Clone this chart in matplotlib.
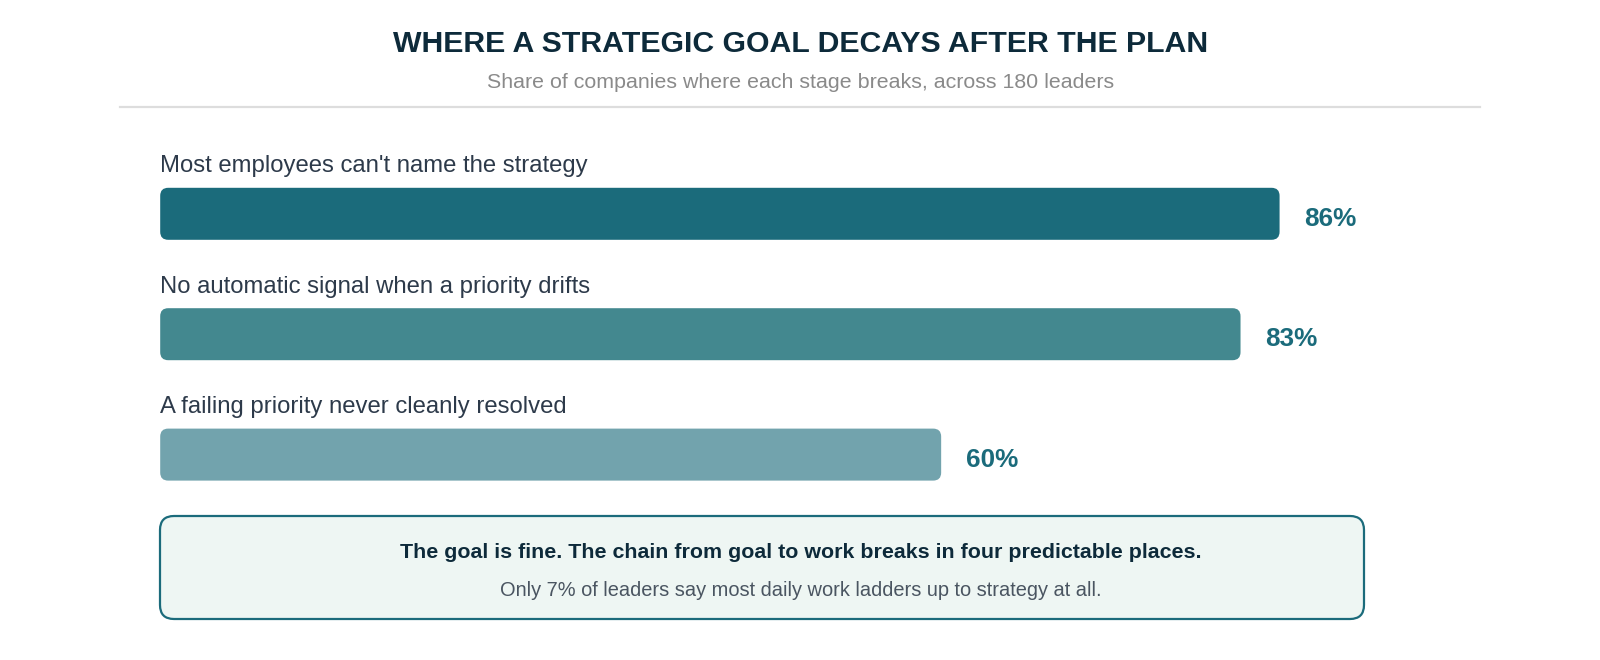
import matplotlib.pyplot as plt
from matplotlib.patches import FancyBboxPatch

plt.rcParams['font.family'] = ['Liberation Sans', 'DejaVu Sans']

title = 'WHERE A STRATEGIC GOAL DECAYS AFTER THE PLAN'
subtitle = 'Share of companies where each stage breaks, across 180 leaders'
stages = ["Most employees can't name the strategy",
          'No automatic signal when a priority drifts',
          'A failing priority never cleanly resolved']
shares = [86, 83, 60]
bar_colors = ['#1b6b7b', '#43888f', '#72a3ad']
note_head = 'The goal is fine. The chain from goal to work breaks in four predictable places.'
note_body = 'Only 7% of leaders say most daily work ladders up to strategy at all.'

W, H = 1600, 660
fig = plt.figure(figsize=(W / 100, H / 100), dpi=100)
fig.patch.set_facecolor('white')

# background layer in pixel units (y down)
deco = fig.add_axes([0, 0, 1, 1])
deco.set_xlim(0, W)
deco.set_ylim(H, 0)
deco.axis('off')

deco.text(801, 43.5, title, ha='center', va='center', fontsize=21.8,
          fontweight='bold', color='#0d2a3a')
deco.text(801, 82.5, subtitle, ha='center', va='center', fontsize=15.4,
          color='#8a8a8a')
deco.plot([120, 1480], [107, 107], color='#dddddd', lw=1.6)

box = FancyBboxPatch((160, 516), 1204, 103,
                     boxstyle='round,pad=0,rounding_size=14',
                     facecolor='#eef6f3', edgecolor='#1b6b7b', lw=1.6)
deco.add_patch(box)
deco.text(801, 553, note_head, ha='center', va='center', fontsize=15.4,
          fontweight='bold', color='#0d2a3a')
deco.text(801, 591, note_body, ha='center', va='center', fontsize=14.4,
          color='#4a5561')

# bar layer: x in percent, y in stage index
px_per_pct = 13.016
px_per_row = 120.4
x0_px, y0_px = 160.2, 213.8
ax = fig.add_axes([0, 0, 1, 1])
ax.patch.set_alpha(0)
ax.set_xlim(-x0_px / px_per_pct, (W - x0_px) / px_per_pct)
ax.set_ylim((H - y0_px) / px_per_row, -y0_px / px_per_row)
ax.axis('off')

bar_h = 52 / px_per_row
aspect = px_per_pct / px_per_row
for i, (name, val, col) in enumerate(zip(stages, shares, bar_colors)):
    ax.add_patch(FancyBboxPatch((0, i - bar_h / 2), val, bar_h,
                                boxstyle='round,pad=0,rounding_size=%f' % (8 / px_per_pct),
                                mutation_aspect=aspect,
                                facecolor=col, edgecolor='none'))
    ax.text(0, i - 47.5 / px_per_row, name, ha='left', va='center',
            fontsize=17.2, color='#2d3a4a')
    ax.text(val + 24.5 / px_per_pct, i + 5 / px_per_row, f'{val}%',
            ha='left', va='center', fontsize=18.8, fontweight='bold',
            color='#1b6b7b')

fig.savefig('out.png', dpi=100, facecolor='white')
